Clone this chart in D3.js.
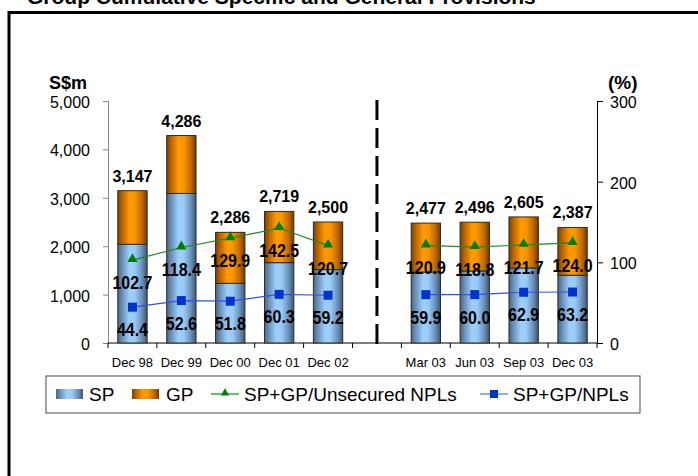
<!DOCTYPE html>
<html>
<head>
<meta charset="utf-8">
<script src="https://cdn.jsdelivr.net/npm/d3@7"></script>
<style>
  html, body { margin: 0; padding: 0; background: #fff; }
  svg text { font-family: "Liberation Sans", Arial, sans-serif; }
</style>
</head>
<body>
<div id="chart"></div>
<script>
// categories (two groups split by the dashed line)
const annualCats = ["Dec 98", "Dec 99", "Dec 00", "Dec 01", "Dec 02"];
const quarterCats = ["Mar 03", "Jun 03", "Sep 03", "Dec 03"];
const categories = annualCats.concat(quarterCats);

// S$m
const spValues = [2040, 3090, 1233, 1660, 1517, 1467, 1488, 1550, 1400];
const gpValues = [1107, 1196, 1053, 1059, 983, 1010, 1008, 1055, 987];
const totalLabels = ["3,147", "4,286", "2,286", "2,719", "2,500", "2,477", "2,496", "2,605", "2,387"];

// %
const unsecuredValues = [102.7, 118.4, 129.9, 142.5, 120.7, 120.9, 118.8, 121.7, 124.0];
const nplValues = [44.4, 52.6, 51.8, 60.3, 59.2, 59.9, 60.0, 62.9, 63.2];

const leftTicks = [0, 1000, 2000, 3000, 4000, 5000];
const rightTicks = [0, 100, 200, 300];

const width = 698, height = 476;

const svg = d3.select("#chart").append("svg")
  .attr("width", width)
  .attr("height", height);

// gradients for the cylinder-ish bars
const defs = svg.append("defs");
function addGrad(id, stops) {
  const g = defs.append("linearGradient").attr("id", id)
    .attr("x1", "0%").attr("x2", "100%").attr("y1", "0%").attr("y2", "0%");
  stops.forEach(s => g.append("stop").attr("offset", s[0]).attr("stop-color", s[1]));
}
addGrad("gradSP", [[0, "#4b6686"], [0.15, "#6a8fb9"], [0.4, "#9dcffc"], [0.58, "#99cbf8"], [0.82, "#6c91ba"], [1, "#3d5674"]]);
addGrad("gradGP", [[0, "#7a4200"], [0.15, "#b86400"], [0.4, "#ff9a00"], [0.58, "#fb9600"], [0.82, "#c06a00"], [1, "#6e3c00"]]);

// outer frame + title (cut at top like the source)
svg.append("rect")
  .attr("x", 9).attr("y", 12.5)
  .attr("width", 720).attr("height", 500)
  .attr("fill", "none").attr("stroke", "#000").attr("stroke-width", 3);

svg.append("text")
  .attr("x", 27).attr("y", 4)
  .attr("font-size", 21).attr("font-weight", "bold")
  .text("Group Cumulative Specific and General Provisions");

// scales
const domain = annualCats.concat(["gap"], quarterCats);
const x = d3.scaleBand().domain(domain).range([108, 597]).paddingInner(0.4).paddingOuter(0.2);
const yL = d3.scaleLinear().domain([0, 5000]).range([343, 101]);
const yR = d3.scaleLinear().domain([0, 300]).range([343, 101]);
const step = x.step();

const rows = categories.map((c, i) => ({
  cat: c, sp: spValues[i], gp: gpValues[i], total: totalLabels[i],
  unsec: unsecuredValues[i], npl: nplValues[i],
  group: i < annualCats.length ? 0 : 1
}));

// axes
const gL = svg.append("g").attr("transform", "translate(108,0)")
  .call(d3.axisLeft(yL).tickValues(leftTicks).tickSize(5).tickPadding(13).tickFormat(d3.format(",")));
gL.select(".domain").attr("stroke", "#888");
gL.selectAll(".tick line").attr("stroke", "#888");
gL.selectAll(".tick text").attr("font-size", 16).attr("fill", "#000").attr("dy", "0.4em")
  .attr("font-family", "'Liberation Sans', Arial, sans-serif");

const gR = svg.append("g").attr("transform", "translate(597,0)")
  .call(d3.axisRight(yR).tickValues(rightTicks).tickSize(6).tickPadding(7));
gR.select(".domain").attr("stroke", "#000");
gR.selectAll(".tick text").attr("font-size", 16).attr("fill", "#000").attr("dy", "0.4em")
  .attr("font-family", "'Liberation Sans', Arial, sans-serif");

// bottom axis line and slot ticks
svg.append("line")
  .attr("x1", 108).attr("x2", 597).attr("y1", 343).attr("y2", 343)
  .attr("stroke", "#000").attr("stroke-width", 1);
svg.selectAll(".xtick").data(d3.range(domain.length + 1)).enter().append("line")
  .attr("x1", i => 108 + i * step).attr("x2", i => 108 + i * step)
  .attr("y1", 343).attr("y2", 348)
  .attr("stroke", "#000");

svg.selectAll(".xlabel").data(rows).enter().append("text")
  .attr("x", d => x(d.cat) + x.bandwidth() / 2)
  .attr("y", 367)
  .attr("text-anchor", "middle")
  .attr("font-size", 13)
  .text(d => d.cat);

// axis titles
svg.append("text").attr("x", 49).attr("y", 89)
  .attr("font-size", 18).attr("font-weight", "bold").text("S$m");
svg.append("text").attr("x", 608).attr("y", 89)
  .attr("font-size", 19).attr("font-weight", "bold").text("(%)");

// dashed separator
const gapX = x("gap") + x.bandwidth() / 2;
svg.append("line")
  .attr("x1", gapX).attr("x2", gapX).attr("y1", 100).attr("y2", 351)
  .attr("stroke", "#000").attr("stroke-width", 3)
  .attr("stroke-dasharray", "20,8");

// stacked bars
const bars = svg.append("g");
bars.selectAll(".sp").data(rows).enter().append("rect")
  .attr("x", d => x(d.cat)).attr("width", x.bandwidth())
  .attr("y", d => yL(d.sp)).attr("height", d => yL(0) - yL(d.sp))
  .attr("fill", "url(#gradSP)").attr("stroke", "#2b2b2b").attr("stroke-width", 1);
bars.selectAll(".gp").data(rows).enter().append("rect")
  .attr("x", d => x(d.cat)).attr("width", x.bandwidth())
  .attr("y", d => yL(d.sp + d.gp)).attr("height", d => yL(d.sp) - yL(d.sp + d.gp))
  .attr("fill", "url(#gradGP)").attr("stroke", "#2b2b2b").attr("stroke-width", 1);

// total labels
svg.selectAll(".total").data(rows).enter().append("text")
  .attr("x", d => x(d.cat) + x.bandwidth() / 2)
  .attr("y", d => yL(d.sp + d.gp) - 9)
  .attr("text-anchor", "middle")
  .attr("font-size", 16).attr("font-weight", "bold")
  .text(d => d.total);

// lines (one per group, not joined across the gap)
const cx = d => x(d.cat) + x.bandwidth() / 2;
const groups = [0, 1].map(g => rows.filter(d => d.group === g));

const unsecLine = d3.line().x(cx).y(d => yR(d.unsec));
const nplLine = d3.line().x(cx).y(d => yR(d.npl));

groups.forEach(g => {
  svg.append("path").attr("d", unsecLine(g))
    .attr("fill", "none").attr("stroke", "#1f8a1f").attr("stroke-width", 1.2);
  svg.append("path").attr("d", nplLine(g))
    .attr("fill", "none").attr("stroke", "#2b55e0").attr("stroke-width", 1.2);
});

const tri = d3.symbol().type(d3.symbolTriangle).size(45);
svg.selectAll(".tri").data(rows).enter().append("path")
  .attr("d", tri)
  .attr("transform", d => `translate(${cx(d)},${yR(d.unsec) - 1})`)
  .attr("fill", "#008000");

svg.selectAll(".sq").data(rows).enter().append("rect")
  .attr("x", d => cx(d) - 4.5).attr("y", d => yR(d.npl) - 4.5)
  .attr("width", 9).attr("height", 9)
  .attr("fill", "#0033cc");

// value labels below markers
svg.selectAll(".ulab").data(rows).enter().append("text")
  .attr("transform", d => `translate(${cx(d)},${yR(d.unsec) + 29}) scale(1,1.1)`)
  .attr("text-anchor", "middle")
  .attr("font-size", 16).attr("font-weight", "bold")
  .text(d => d.unsec.toFixed(1));
svg.selectAll(".nlab").data(rows).enter().append("text")
  .attr("transform", d => `translate(${cx(d)},${yR(d.npl) + 29}) scale(1,1.1)`)
  .attr("text-anchor", "middle")
  .attr("font-size", 16).attr("font-weight", "bold")
  .text(d => d.npl.toFixed(1));

// legend
const lg = svg.append("g");
lg.append("rect")
  .attr("x", 46).attr("y", 376).attr("width", 594).attr("height", 37)
  .attr("fill", "#fff").attr("stroke", "#666").attr("stroke-width", 1.2);

lg.append("rect").attr("x", 56).attr("y", 389).attr("width", 27).attr("height", 10)
  .attr("fill", "url(#gradSP)");
lg.append("text").attr("x", 89).attr("y", 401).attr("font-size", 19).text("SP");

lg.append("rect").attr("x", 132).attr("y", 389).attr("width", 27).attr("height", 10)
  .attr("fill", "url(#gradGP)");
lg.append("text").attr("x", 166).attr("y", 401).attr("font-size", 19).text("GP");

lg.append("line").attr("x1", 211).attr("x2", 239).attr("y1", 394).attr("y2", 394)
  .attr("stroke", "#3aa83a").attr("stroke-width", 1.5);
lg.append("path").attr("d", d3.symbol().type(d3.symbolTriangle).size(30))
  .attr("transform", "translate(225,393)").attr("fill", "#008000");
lg.append("text").attr("x", 244).attr("y", 401).attr("font-size", 19).text("SP+GP/Unsecured NPLs");

lg.append("line").attr("x1", 480).attr("x2", 508).attr("y1", 394).attr("y2", 394)
  .attr("stroke", "#6f8fef").attr("stroke-width", 1.5);
lg.append("rect").attr("x", 490).attr("y", 390).attr("width", 8).attr("height", 8)
  .attr("fill", "#0033cc");
lg.append("text").attr("x", 513).attr("y", 401).attr("font-size", 19).text("SP+GP/NPLs");
</script>
</body>
</html>
